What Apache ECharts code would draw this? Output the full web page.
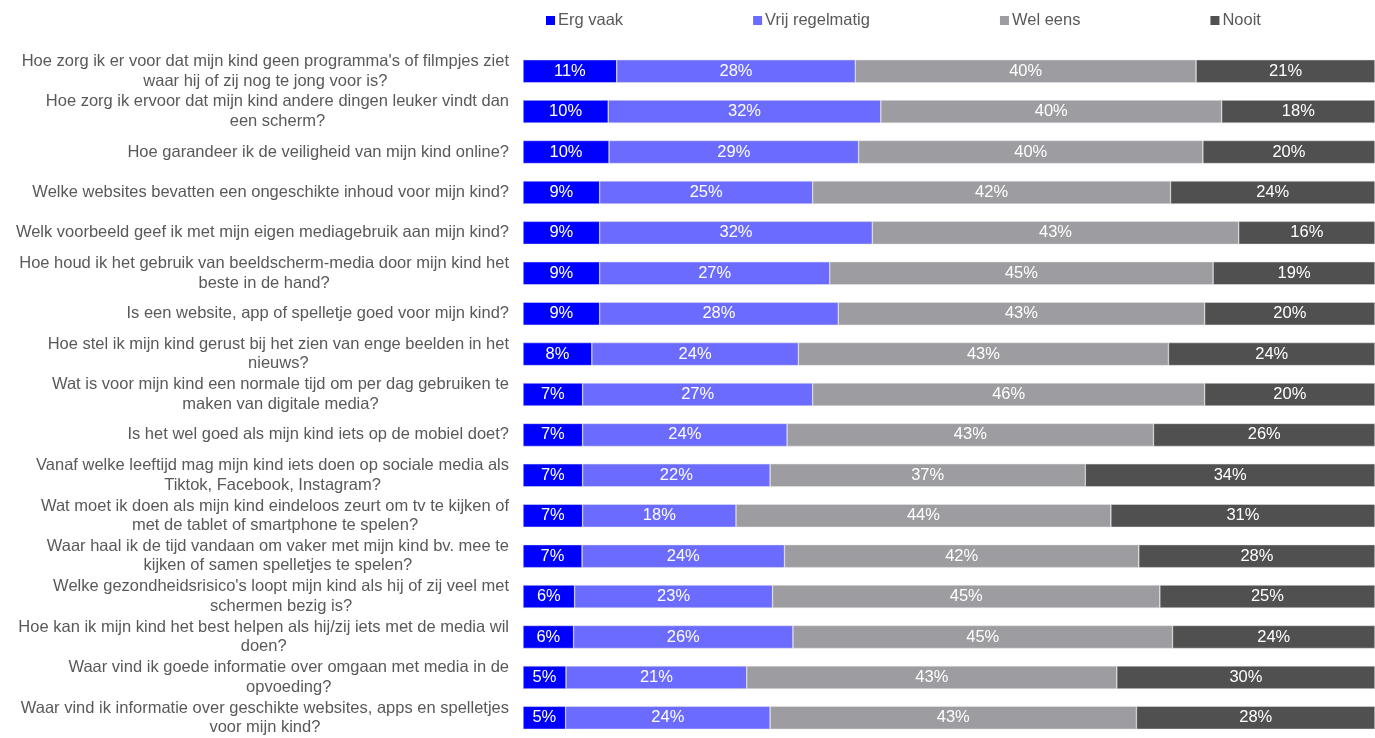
<!DOCTYPE html>
<html lang="nl">
  <head>
    <meta charset="UTF-8" />
    <title>Opvoedvragen over media</title>
    <script src="https://cdn.jsdelivr.net/npm/echarts@6/dist/echarts.min.js"></script>
  </head>
  <body style="margin: 0; background: #fff">
    <div id="container" style="width: 1375px; height: 738px"></div>
    <script>
      // vragen, van boven naar beneden
      const vragen = [
        "Hoe zorg ik er voor dat mijn kind geen programma's of filmpjes ziet\nwaar hij of zij nog te jong voor is?",
        "Hoe zorg ik ervoor dat mijn kind andere dingen leuker vindt dan\neen scherm?",
        "Hoe garandeer ik de veiligheid van mijn kind online?",
        "Welke websites bevatten een ongeschikte inhoud voor mijn kind?",
        "Welk voorbeeld geef ik met mijn eigen mediagebruik aan mijn kind?",
        "Hoe houd ik het gebruik van beeldscherm-media door mijn kind het\nbeste in de hand?",
        "Is een website, app of spelletje goed voor mijn kind?",
        "Hoe stel ik mijn kind gerust bij het zien van enge beelden in het\nnieuws?",
        "Wat is voor mijn kind een normale tijd om per dag gebruiken te\nmaken van digitale media?",
        "Is het wel goed als mijn kind iets op de mobiel doet?",
        "Vanaf welke leeftijd mag mijn kind iets doen op sociale media als\nTiktok, Facebook, Instagram?",
        "Wat moet ik doen als mijn kind eindeloos zeurt om tv te kijken of\nmet de tablet of smartphone te spelen?",
        "Waar haal ik de tijd vandaan om vaker met mijn kind bv. mee te\nkijken of samen spelletjes te spelen?",
        "Welke gezondheidsrisico's loopt mijn kind als hij of zij veel met\nschermen bezig is?",
        "Hoe kan ik mijn kind het best helpen als hij/zij iets met de media wil\ndoen?",
        "Waar vind ik goede informatie over omgaan met media in de\nopvoeding?",
        "Waar vind ik informatie over geschikte websites, apps en spelletjes\nvoor mijn kind?"
      ];

      const reeksen = ["Erg vaak", "Vrij regelmatig", "Wel eens", "Nooit"];
      const kleuren = ["#0000ff", "#6b6bff", "#9d9da1", "#505050"];

      const ergVaak = [11, 10, 10, 9, 9, 9, 9, 8, 7, 7, 7, 7, 7, 6, 6, 5, 5];
      const vrijRegelmatig = [28, 32, 29, 25, 32, 27, 28, 24, 27, 24, 22, 18, 24, 23, 26, 21, 24];
      const welEens = [40, 40, 40, 42, 43, 45, 43, 43, 46, 43, 37, 44, 42, 45, 45, 43, 43];
      const nooit = [21, 18, 20, 24, 16, 19, 20, 24, 20, 26, 34, 31, 28, 25, 24, 30, 28];

      const waarden = [ergVaak, vrijRegelmatig, welEens, nooit];

      // afgeronde percentages tellen niet altijd op tot 100: balk vullen
      const totalen = vragen.map((v, i) =>
        waarden.reduce((s, arr) => s + arr[i], 0)
      );

      const font = '"Liberation Sans", Arial, sans-serif';

      const dom = document.getElementById("container");
      const myChart = echarts.init(dom);

      const option = {
        animation: false,
        textStyle: { fontFamily: font },
        legend: {
          data: reeksen,
          left: 541,
          top: 7,
          icon: "rect",
          itemWidth: 9,
          itemHeight: 9,
          itemGap: 130,
          itemStyle: { borderWidth: 0 },
          textStyle: { color: "#595959", fontSize: 16.5, fontFamily: font, padding: [0, 0, 0, -2] }
        },
        grid: {
          left: 523,
          right: 0,
          top: 51,
          bottom: -4,
          containLabel: false
        },
        xAxis: {
          type: "value",
          min: 0,
          max: 100,
          show: false
        },
        yAxis: {
          type: "category",
          data: vragen,
          inverse: true,
          axisLine: { show: false },
          axisTick: { show: false },
          splitLine: { show: false },
          axisLabel: {
            margin: 14,
            formatter: function (value) {
              // tweede regel gecentreerd onder de eerste
              return value
                .split("\n")
                .map(r => "{c|" + r + "}")
                .join("\n");
            },
            rich: {
              c: {
                align: "center",
                color: "#595959",
                fontSize: 16.5,
                lineHeight: 19.5,
                fontFamily: font
              }
            }
          }
        },
        series: reeksen.map((naam, k) => ({
          name: naam,
          type: "bar",
          stack: "totaal",
          barWidth: 23,
          itemStyle: { color: kleuren[k], borderColor: "#e6e6e6", borderWidth: 0.5 },
          label: {
            show: true,
            position: "inside",
            color: "#ffffff",
            fontSize: 16.5,
            fontFamily: font,
            formatter: p => waarden[k][p.dataIndex] + "%"
          },
          data: waarden[k].map((w, i) => (w / totalen[i]) * 100)
        }))
      };

      myChart.setOption(option);
    </script>
  </body>
</html>
